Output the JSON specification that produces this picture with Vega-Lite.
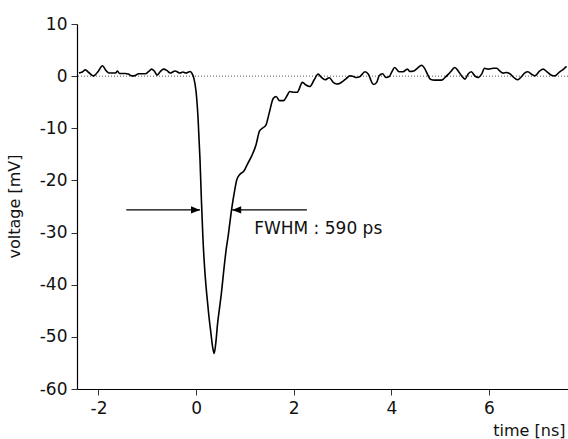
{
  "$schema": "https://vega.github.io/schema/vega-lite/v6.json",
  "width": 491,
  "height": 365,
  "autosize": {"type": "none"},
  "padding": {"left": 77, "top": 24, "right": 0, "bottom": 50},
  "background": "white",
  "config": {
    "view": {"stroke": null},
    "font": "DejaVu Sans",
    "axis": {
      "grid": false,
      "domainColor": "#000000",
      "domainWidth": 1.2,
      "tickColor": "#333333",
      "tickSize": 6,
      "labelColor": "#111111",
      "titleColor": "#111111",
      "labelFont": "DejaVu Sans",
      "titleFont": "DejaVu Sans",
      "labelFontSize": 17,
      "titleFontSize": 16,
      "titleFontWeight": "normal"
    }
  },
  "datasets": {
    "trace": [
      {"t": -2.40, "v": 0.6}, {"t": -2.33, "v": 0.8}, {"t": -2.27, "v": 1.2}, {"t": -2.20, "v": 0.7},
      {"t": -2.10, "v": 0.05}, {"t": -2.00, "v": 1.0}, {"t": -1.92, "v": 2.0}, {"t": -1.84, "v": 1.0},
      {"t": -1.79, "v": 0.6}, {"t": -1.65, "v": 0.6}, {"t": -1.61, "v": 1.0}, {"t": -1.57, "v": 0.5},
      {"t": -1.45, "v": 0.5}, {"t": -1.39, "v": 0.4}, {"t": -1.32, "v": 0.05}, {"t": -1.25, "v": 0.1},
      {"t": -1.18, "v": 0.45}, {"t": -1.04, "v": 0.45}, {"t": -0.97, "v": 0.9}, {"t": -0.91, "v": 1.35},
      {"t": -0.85, "v": 0.9}, {"t": -0.80, "v": 0.2}, {"t": -0.73, "v": 0.9}, {"t": -0.67, "v": 1.35},
      {"t": -0.60, "v": 1.1}, {"t": -0.53, "v": 0.6}, {"t": -0.43, "v": 1.0}, {"t": -0.33, "v": 0.6},
      {"t": -0.27, "v": 0.8}, {"t": -0.21, "v": 0.6}, {"t": -0.12, "v": 0.9}, {"t": -0.09, "v": 0.6},
      {"t": -0.05, "v": -0.25}, {"t": 0.00, "v": -3.0}, {"t": 0.04, "v": -8.0}, {"t": 0.08, "v": -16.0},
      {"t": 0.11, "v": -24.0}, {"t": 0.14, "v": -31.0}, {"t": 0.18, "v": -37.5}, {"t": 0.22, "v": -42.0},
      {"t": 0.26, "v": -45.8}, {"t": 0.30, "v": -49.0}, {"t": 0.34, "v": -52.0}, {"t": 0.37, "v": -53.2},
      {"t": 0.40, "v": -51.5}, {"t": 0.44, "v": -47.5}, {"t": 0.48, "v": -44.5}, {"t": 0.52, "v": -41.5},
      {"t": 0.57, "v": -37.0}, {"t": 0.62, "v": -33.0}, {"t": 0.66, "v": -30.5}, {"t": 0.70, "v": -27.5},
      {"t": 0.74, "v": -24.8}, {"t": 0.78, "v": -22.5}, {"t": 0.83, "v": -20.0}, {"t": 0.90, "v": -18.8},
      {"t": 0.98, "v": -18.2}, {"t": 1.05, "v": -16.9}, {"t": 1.14, "v": -15.3}, {"t": 1.23, "v": -13.1},
      {"t": 1.30, "v": -10.5}, {"t": 1.37, "v": -9.9}, {"t": 1.43, "v": -9.4}, {"t": 1.50, "v": -7.0},
      {"t": 1.58, "v": -4.3}, {"t": 1.64, "v": -3.9}, {"t": 1.71, "v": -4.7}, {"t": 1.79, "v": -4.7},
      {"t": 1.86, "v": -3.8}, {"t": 1.92, "v": -2.95}, {"t": 2.01, "v": -3.1}, {"t": 2.07, "v": -3.1},
      {"t": 2.18, "v": -1.2}, {"t": 2.25, "v": -1.7}, {"t": 2.33, "v": -2.0}, {"t": 2.42, "v": -0.7},
      {"t": 2.50, "v": 0.4}, {"t": 2.57, "v": -0.25}, {"t": 2.64, "v": -0.7}, {"t": 2.73, "v": -0.3},
      {"t": 2.81, "v": -1.2}, {"t": 2.88, "v": -1.5}, {"t": 2.95, "v": -1.35}, {"t": 3.02, "v": -0.9},
      {"t": 3.08, "v": -0.45}, {"t": 3.15, "v": 0.06}, {"t": 3.22, "v": -0.06}, {"t": 3.29, "v": -0.26},
      {"t": 3.36, "v": -0.06}, {"t": 3.46, "v": 0.83}, {"t": 3.53, "v": 0.38}, {"t": 3.60, "v": -1.2},
      {"t": 3.64, "v": -1.6}, {"t": 3.70, "v": -1.2}, {"t": 3.75, "v": 0.06}, {"t": 3.82, "v": 0.45},
      {"t": 3.89, "v": -0.26}, {"t": 3.96, "v": -0.06}, {"t": 4.01, "v": 0.83}, {"t": 4.07, "v": 1.67},
      {"t": 4.16, "v": 0.83}, {"t": 4.24, "v": 0.83}, {"t": 4.33, "v": 1.35}, {"t": 4.38, "v": 0.9},
      {"t": 4.46, "v": 1.0}, {"t": 4.53, "v": 1.5}, {"t": 4.62, "v": 2.1}, {"t": 4.69, "v": 1.35},
      {"t": 4.74, "v": 0.38}, {"t": 4.80, "v": -0.58}, {"t": 4.89, "v": -0.77}, {"t": 5.03, "v": -0.77},
      {"t": 5.10, "v": -0.26}, {"t": 5.17, "v": 0.38}, {"t": 5.23, "v": 1.0}, {"t": 5.30, "v": 1.67},
      {"t": 5.37, "v": 1.0}, {"t": 5.44, "v": 0.06}, {"t": 5.51, "v": -0.58}, {"t": 5.57, "v": 0.38},
      {"t": 5.64, "v": 0.83}, {"t": 5.71, "v": 0.06}, {"t": 5.78, "v": -0.26}, {"t": 5.85, "v": 0.38},
      {"t": 5.91, "v": 1.5}, {"t": 5.98, "v": 1.35}, {"t": 6.09, "v": 1.5}, {"t": 6.16, "v": 1.5},
      {"t": 6.22, "v": 1.0}, {"t": 6.29, "v": 0.58}, {"t": 6.36, "v": 0.7}, {"t": 6.44, "v": 0.38},
      {"t": 6.51, "v": -0.26}, {"t": 6.58, "v": -0.7}, {"t": 6.65, "v": -0.26}, {"t": 6.73, "v": 0.58},
      {"t": 6.80, "v": 0.83}, {"t": 6.87, "v": 0.38}, {"t": 6.94, "v": 0.06}, {"t": 7.04, "v": 1.0},
      {"t": 7.11, "v": 1.35}, {"t": 7.19, "v": 0.83}, {"t": 7.28, "v": 0.19}, {"t": 7.35, "v": 0.06},
      {"t": 7.45, "v": 0.83}, {"t": 7.53, "v": 1.35}, {"t": 7.59, "v": 1.86}
    ],
    "zero": [{"v": 0}],
    "arrows": [
      {"from": -1.43, "to": 0.08, "level": -25.65, "dir": "right"},
      {"from": 2.27, "to": 0.74, "level": -25.65, "dir": "left"}
    ],
    "label": [
      {"t": 1.19, "v": -29.3, "text": "FWHM : 590 ps"}
    ]
  },
  "layer": [
    {
      "data": {"name": "zero"},
      "mark": {"type": "rule", "color": "#555555", "strokeWidth": 1, "strokeDash": [1, 2]},
      "encoding": {"y": {"field": "v", "type": "quantitative", "scale": {"domain": [-60, 10], "nice": false, "zero": false}}}
    },
    {
      "data": {"name": "trace"},
      "mark": {"type": "line", "color": "#000000", "strokeWidth": 1.6, "interpolate": "monotone"},
      "encoding": {
        "x": {
          "field": "t", "type": "quantitative",
          "scale": {"domain": [-2.44, 7.62], "nice": false, "zero": false},
          "axis": {
            "values": [-2, 0, 2, 4, 6],
            "labelExpr": "'' + datum.value",
            "labelPadding": 5,
            "title": "time [ns]",
            "titleAnchor": "end",
            "titleAlign": "right",
            "titleX": 488,
            "titleY": 41,
            "titleBaseline": "middle"
          }
        },
        "y": {
          "field": "v", "type": "quantitative",
          "scale": {"domain": [-60, 10], "nice": false, "zero": false},
          "axis": {
            "values": [-60, -50, -40, -30, -20, -10, 0, 10],
            "labelExpr": "'' + datum.value",
            "labelPadding": 4,
            "title": "voltage [mV]",
            "titleAngle": -90,
            "titleX": -63,
            "titleY": 182,
            "titleAlign": "center",
            "titleBaseline": "middle"
          }
        }
      }
    },
    {
      "data": {"name": "arrows"},
      "mark": {"type": "rule", "color": "#000000", "strokeWidth": 1.2},
      "encoding": {
        "x": {"field": "from", "type": "quantitative"},
        "x2": {"field": "to"},
        "y": {"field": "level", "type": "quantitative"}
      }
    },
    {
      "data": {"name": "arrows"},
      "transform": [{"filter": "datum.dir == 'right'"}],
      "mark": {"type": "point", "shape": "M0,0L-1,-0.4L-1,0.4Z", "filled": true, "color": "#000000", "size": 324, "opacity": 1},
      "encoding": {
        "x": {"field": "to", "type": "quantitative"},
        "y": {"field": "level", "type": "quantitative"}
      }
    },
    {
      "data": {"name": "arrows"},
      "transform": [{"filter": "datum.dir == 'left'"}],
      "mark": {"type": "point", "shape": "M0,0L1,-0.4L1,0.4Z", "filled": true, "color": "#000000", "size": 324, "opacity": 1},
      "encoding": {
        "x": {"field": "to", "type": "quantitative"},
        "y": {"field": "level", "type": "quantitative"}
      }
    },
    {
      "data": {"name": "label"},
      "mark": {"type": "text", "align": "left", "baseline": "middle", "fontSize": 17, "font": "DejaVu Sans", "color": "#111111"},
      "encoding": {
        "x": {"field": "t", "type": "quantitative"},
        "y": {"field": "v", "type": "quantitative"},
        "text": {"field": "text"}
      }
    }
  ]
}
